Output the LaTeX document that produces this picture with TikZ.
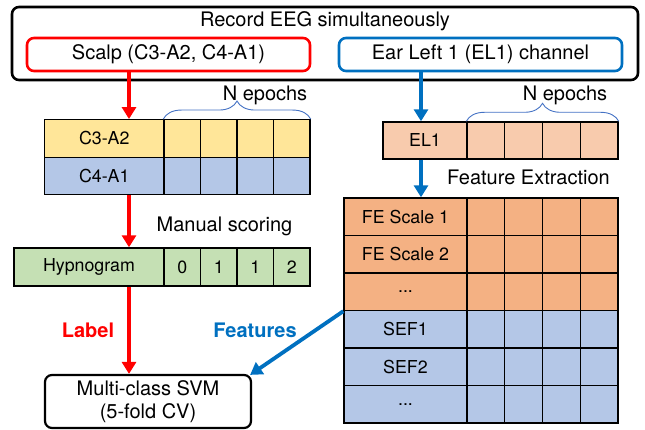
\documentclass[tikz,border=0pt]{standalone}
\usepackage{fontspec}
\setmainfont{TeX Gyre Heros}
\usetikzlibrary{arrows.meta,decorations.pathreplacing}
\definecolor{ylw}{HTML}{FFE699}
\definecolor{lblue}{HTML}{B4C7E7}
\definecolor{lgreen}{HTML}{C5E0B4}
\definecolor{lorange}{HTML}{F8CBAD}
\definecolor{dorange}{HTML}{F4B183}
\definecolor{eegblue}{HTML}{0070C0}
\definecolor{brc}{HTML}{4472C4}
\newcommand{\rowdots}{...}
\begin{document}
\begin{tikzpicture}[x=1pt, y=-1pt, font=\fontsize{20}{23}\selectfont,
    box/.style = {draw, line width=2.6pt, rounded corners=7pt, inner sep=0pt},
    tab/.style = {draw, line width=1.4pt, inner sep=0pt, font=\fontsize{17.8}{20}\selectfont},
    redarr/.style = {red, line width=3.8pt, -{Triangle[width=14pt,length=12pt]}},
    bluarr/.style = {eegblue, line width=3.8pt, -{Triangle[width=14pt,length=12pt]}},
    epochs/.style = {draw=brc, line width=0.9pt, decorate, decoration={brace, amplitude=18pt}}]
  \useasboundingbox (0,0) rectangle (645,430);
  % recording
  \node[box, minimum width=626, minimum height=73] (rec) at (325,43.5) {};
  \node (rectxt) at (325,21) {Record EEG simultaneously};
  \node[box, draw=red, minimum width=283, minimum height=33] (scalp) at (168.5,54.5) {Scalp (C3-A2, C4-A1)};
  \node[box, draw=eegblue, minimum width=283, minimum height=33] (ear) at (480.5,54.5) {Ear Left 1 (EL1) channel};
  \coordinate (lx) at (129,0);
  \coordinate (rx) at (421,0);
  % scalp channels
  \node[tab, fill=ylw, minimum width=119.5, minimum height=37.5] (c3) at (104.25,138.5) {C3-A2};
  \node[tab, fill=lblue, minimum width=119.5, minimum height=37.5] (c4) at (104.25,176) {C4-A1};
  \foreach \i in {0,...,3} {
    \node[tab, fill=ylw, minimum width=36.5, minimum height=37.5] (c3\i) at (182.25+36.5*\i,138.5) {};
    \node[tab, fill=lblue, minimum width=36.5, minimum height=37.5] (c4\i) at (182.25+36.5*\i,176) {};
  }
  \draw[epochs] (c30.north west) -- (c33.north east);
  \node (nl) at (265,95) {N epochs};
  % hypnogram
  \node[tab, fill=lgreen, minimum width=150, minimum height=38] (hyp) at (89,267) {Hypnogram};
  \foreach \v [count=\i from 0] in {0,1,1,2}
    \node[tab, fill=lgreen, minimum width=36.5, minimum height=38] (hyp\i) at (182.25+36.5*\i,267) {\v};
  \node (ms) at (224.5,226) {Manual scoring};
  % ear channel
  \node[tab, fill=lorange, minimum width=84, minimum height=37] (el1) at (425,140.5) {EL1};
  \foreach \i in {0,...,3}
    \node[tab, fill=lorange, minimum width=37.75, minimum height=37] (el1\i) at (485.9+37.75*\i,140.5) {};
  \draw[epochs] (el10.north west) -- (el13.north east);
  \node (nr) at (565,95) {N epochs};
  \node (fe) at (528.5,177) {Feature Extraction};
  % features
  \foreach \t/\c [count=\k from 0] in {FE Scale 1/dorange, FE Scale 2/dorange, \rowdots/dorange, SEF1/lblue, SEF2/lblue, \rowdots/lblue} {
    \node[tab, fill=\c, minimum width=123, minimum height=37.5] (f\k) at (405.5,216.75+37.5*\k) {\t};
    \foreach \i in {0,...,3}
      \node[tab, fill=\c, minimum width=37.75, minimum height=37.5] (f\k\i) at (485.9+37.75*\i,216.75+37.5*\k) {};
  }
  % classifier
  \node[box, line width=2.2pt, minimum width=206, minimum height=53, align=center, font=\fontsize{20}{23}\selectfont] (svm) at (148,401.5) {Multi-class SVM\\(5-fold CV)};
  \draw[redarr] (scalp.south -| lx) -- (c3.north -| lx);
  \draw[redarr] (c4.south -| lx) -- (hyp.north -| lx);
  \draw[redarr] (hyp.south -| lx) -- (svm.north -| lx);
  \draw[bluarr] (ear.south -| rx) -- (el1.north -| rx);
  \draw[bluarr] (el1.south -| rx) -- (f0.north -| rx);
  \draw[bluarr] (f2.south west) -- ([xshift=-2pt,yshift=-1pt]svm.north east);
  \node[red, font=\fontsize{20}{23}\selectfont\bfseries] (lab) at (88,330) {Label};
  \node[eegblue, font=\fontsize{20}{23}\selectfont\bfseries] (feat) at (255,330) {Features};
\end{tikzpicture}
\end{document}
